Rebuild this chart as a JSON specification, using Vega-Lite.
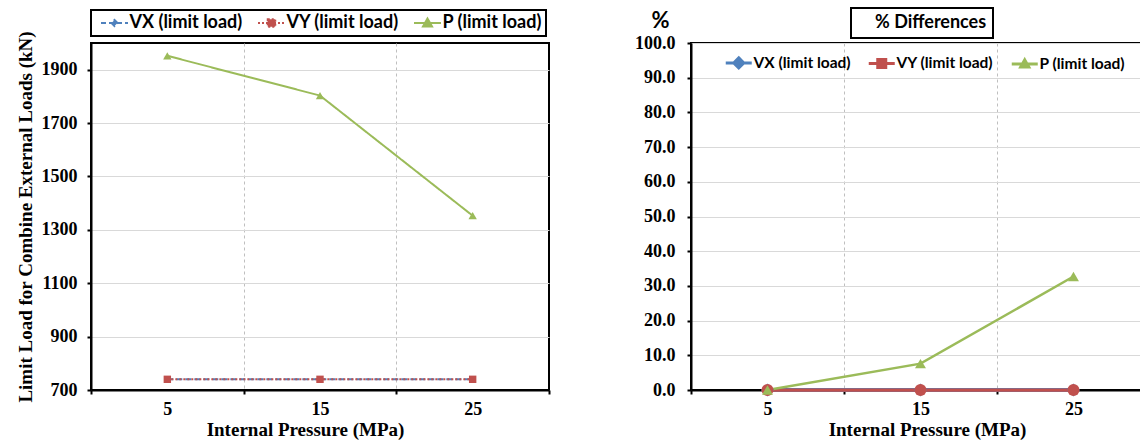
{
  "$schema": "https://vega.github.io/schema/vega-lite/v6.json",
  "background": "white",
  "padding": {"left": 15, "top": 6, "right": 0, "bottom": 0},
  "data": {"values": [
    {"p": 5, "series": "VX (limit load)", "load": 740, "diff": 0},
    {"p": 15, "series": "VX (limit load)", "load": 740, "diff": 0},
    {"p": 25, "series": "VX (limit load)", "load": 740, "diff": 0},
    {"p": 5, "series": "VY (limit load)", "load": 740, "diff": 0},
    {"p": 15, "series": "VY (limit load)", "load": 740, "diff": 0},
    {"p": 25, "series": "VY (limit load)", "load": 740, "diff": 0},
    {"p": 5, "series": "P (limit load)", "load": 1952, "diff": 0},
    {"p": 15, "series": "P (limit load)", "load": 1803, "diff": 7.6},
    {"p": 25, "series": "P (limit load)", "load": 1353, "diff": 32.7}
  ]},
  "config": {
    "view": {"stroke": "black", "strokeWidth": 2},
    "legend": {"strokeWidth": 2},
    "axis": {
      "domainColor": "black", "domainWidth": 2,
      "tickColor": "black", "tickWidth": 2, "tickSize": 4, "labelOverlap": false,
      "labelFont": "Liberation Serif", "labelFontWeight": "bold", "labelFontSize": 18, "labelColor": "black",
      "titleFont": "Liberation Serif", "titleFontWeight": "bold", "titleFontSize": 19, "titleColor": "black"
    }
  },
  "spacing": 82,
  "resolve": {"scale": {"color": "independent", "fill": "independent", "stroke": "independent", "shape": "independent", "size": "independent", "strokeDash": "independent", "strokeWidth": "independent", "opacity": "independent"},
              "legend": {"color": "independent", "fill": "independent", "stroke": "independent", "shape": "independent", "strokeDash": "independent", "opacity": "independent"}},
  "hconcat": [
    {
      "width": 458,
      "height": 347,
      "view": {"stroke": "black", "strokeWidth": 2},
      "encoding": {
        "x": {"field": "p", "type": "quantitative",
          "scale": {"domain": [0, 30], "nice": false, "zero": false},
          "axis": {"values": [0, 5, 10, 15, 20, 25, 30], "title": "Internal Pressure (MPa)",
            "labelExpr": "datum.value % 10 === 5 ? datum.label : ''",
            "tickOpacity": {"condition": {"test": "datum.value % 10 === 0", "value": 1}, "value": 0},
            "gridOpacity": {"condition": {"test": "datum.value % 10 === 0 && datum.value > 0 && datum.value < 30", "value": 1}, "value": 0},
            "gridDash": [3, 3], "gridColor": "#bfbfbf", "labelPadding": 6, "titlePadding": 2,
            "titleX": 214, "titleAlign": "center", "titleAnchor": null}},
        "y": {"field": "load", "type": "quantitative",
          "scale": {"domain": [700, 2000], "nice": false, "zero": false},
          "axis": {"values": [700, 900, 1100, 1300, 1500, 1700, 1900], "format": "d",
            "title": "Limit Load for Combine External Loads (kN)",
            "gridColor": "#d9d9d9", "labelPadding": 10, "titlePadding": 6}}
      },
      "resolve": {"scale": {"shape": "independent", "strokeDash": "independent", "fill": "independent", "stroke": "independent"}},
      "layer": [
        {"mark": {"type": "line", "strokeWidth": 2},
         "encoding": {
           "color": {"field": "series", "type": "nominal",
             "scale": {"domain": ["VX (limit load)", "VY (limit load)", "P (limit load)"], "range": ["#4F81BD", "#C0504D", "#9BBB59"]}, "legend": null},
           "strokeDash": {"field": "series", "type": "nominal",
             "scale": {"domain": ["VX (limit load)", "VY (limit load)", "P (limit load)"], "range": [[6, 3], [2, 2], [1, 0]]}, "legend": null}}},
        {"mark": {"type": "point", "filled": true, "opacity": 1},
         "encoding": {
           "color": {"field": "series", "type": "nominal", "legend": null},
           "shape": {"field": "series", "type": "nominal",
             "scale": {"domain": ["VX (limit load)", "VY (limit load)", "P (limit load)"], "range": ["diamond", "square", "triangle-up"]}, "legend": null},
           "size": {"field": "series", "type": "nominal",
             "scale": {"domain": ["VX (limit load)", "VY (limit load)", "P (limit load)"], "range": [40, 70, 80]}, "legend": null}}},
        {"mark": {"type": "point", "filled": true, "opacity": 0},
         "encoding": {
           "fill": {"field": "series", "type": "nominal",
             "scale": {"domain": ["VX (limit load)", "VY (limit load)", "P (limit load)"], "range": ["#4F81BD", "#C0504D", "#9BBB59"]},
             "legend": {"title": null, "orient": "top", "direction": "horizontal", "offset": 7, "strokeColor": "black", "padding": 4,
               "labelFont": "Lato", "labelFontWeight": "bold", "labelFontSize": 18, "labelColor": "black",
               "symbolSize": 100, "symbolStrokeWidth": 2, "symbolOffset": 10.5, "labelOffset": 6, "columnPadding": 9,
               "symbolOpacity": 1, "symbolFillColor": "black", "symbolStrokeColor": "black"}},
           "stroke": {"field": "series", "type": "nominal",
             "scale": {"domain": ["VX (limit load)", "VY (limit load)", "P (limit load)"], "range": ["#4F81BD", "#C0504D", "#9BBB59"]},
             "legend": {"title": null, "orient": "top", "direction": "horizontal", "offset": 7, "strokeColor": "black", "padding": 4,
               "labelFont": "Lato", "labelFontWeight": "bold", "labelFontSize": 18, "labelColor": "black",
               "symbolSize": 100, "symbolStrokeWidth": 2, "symbolOffset": 10.5, "labelOffset": 6, "columnPadding": 9,
               "symbolOpacity": 1, "symbolFillColor": "black", "symbolStrokeColor": "black"}},
           "shape": {"field": "series", "type": "nominal",
             "scale": {"domain": ["VX (limit load)", "VY (limit load)", "P (limit load)"],
               "range": ["M-2.7,0H2.7M0,-0.6L0.6,0L0,0.6L-0.6,0Z", "M-2.7,0H2.7M-0.75,-0.75H0.75V0.75H-0.75Z", "M-2.7,0H2.7M0,-0.9L0.9,0.7L-0.9,0.7Z"]},
             "legend": {"title": null, "orient": "top", "direction": "horizontal", "offset": 7, "strokeColor": "black", "padding": 4,
               "labelFont": "Lato", "labelFontWeight": "bold", "labelFontSize": 18, "labelColor": "black",
               "symbolSize": 100, "symbolStrokeWidth": 2, "symbolOffset": 10.5, "labelOffset": 6, "columnPadding": 9,
               "symbolOpacity": 1, "symbolFillColor": "black", "symbolStrokeColor": "black"}},
           "strokeDash": {"field": "series", "type": "nominal",
             "scale": {"domain": ["VX (limit load)", "VY (limit load)", "P (limit load)"], "range": [[5, 3], [2, 2], [1, 0]]},
             "legend": {"title": null, "orient": "top", "direction": "horizontal", "offset": 7, "strokeColor": "black", "padding": 4,
               "labelFont": "Lato", "labelFontWeight": "bold", "labelFontSize": 18, "labelColor": "black",
               "symbolSize": 100, "symbolStrokeWidth": 2, "symbolOffset": 10.5, "labelOffset": 6, "columnPadding": 9,
               "symbolOpacity": 1, "symbolFillColor": "black", "symbolStrokeColor": "black"}}}}
      ]
    },
    {
      "width": 451,
      "height": 347,
      "view": {"stroke": "black", "strokeWidth": 2},
      "encoding": {
        "x": {"field": "p", "type": "quantitative",
          "scale": {"domain": [0, 29.48], "nice": false, "zero": false},
          "axis": {"values": [0, 5, 10, 15, 20, 25], "title": "Internal Pressure (MPa)",
            "labelExpr": "datum.value % 10 === 5 ? datum.label : ''",
            "tickOpacity": {"condition": {"test": "datum.value % 10 === 0", "value": 1}, "value": 0},
            "gridOpacity": {"condition": {"test": "datum.value % 10 === 0 && datum.value > 0", "value": 1}, "value": 0},
            "gridDash": [3, 3], "gridColor": "#bfbfbf", "labelPadding": 6, "titlePadding": 2,
            "titleX": 236, "titleAlign": "center", "titleAnchor": null}},
        "y": {"field": "diff", "type": "quantitative",
          "scale": {"domain": [0, 100], "nice": false},
          "axis": {"values": [0, 10, 20, 30, 40, 50, 60, 70, 80, 90, 100], "format": ".1f",
            "title": "%", "titleAngle": 0, "titleX": -31, "titleY": -23, "titleAlign": "center", "titleBaseline": "middle",
            "titleFont": "Lato", "titleFontSize": 22,
            "gridColor": "#d9d9d9", "labelPadding": 12}}
      },
      "resolve": {"scale": {"shape": "independent", "fill": "independent", "stroke": "independent"}},
      "layer": [
        {"mark": {"type": "line"},
         "encoding": {
           "color": {"field": "series", "type": "nominal",
             "scale": {"domain": ["VX (limit load)", "VY (limit load)", "P (limit load)"], "range": ["#4F81BD", "#C0504D", "#9BBB59"]}, "legend": null},
           "strokeWidth": {"field": "series", "type": "nominal",
             "scale": {"domain": ["VX (limit load)", "VY (limit load)", "P (limit load)"], "range": [4, 2.5, 2.5]}, "legend": null}}},
        {"mark": {"type": "point", "filled": true, "opacity": 1},
         "encoding": {
           "color": {"field": "series", "type": "nominal", "legend": null},
           "shape": {"field": "series", "type": "nominal",
             "scale": {"domain": ["VX (limit load)", "VY (limit load)", "P (limit load)"], "range": ["diamond", "circle", "triangle-up"]}, "legend": null},
           "size": {"field": "series", "type": "nominal",
             "scale": {"domain": ["VX (limit load)", "VY (limit load)", "P (limit load)"], "range": [170, 120, 70]}, "legend": null}}},
        {"mark": {"type": "point", "filled": true, "opacity": 0},
         "encoding": {
           "fill": {"field": "series", "type": "nominal",
             "scale": {"domain": ["VX (limit load)", "VY (limit load)", "P (limit load)"], "range": ["#4F81BD", "#C0504D", "#9BBB59"]},
             "legend": {"title": null, "orient": "none", "direction": "horizontal", "legendX": 32, "legendY": 12, "padding": 0,
               "labelFont": "Lato", "labelFontWeight": "bold", "labelFontSize": 15.5, "labelColor": "black",
               "symbolSize": 100, "symbolStrokeWidth": 3, "symbolOffset": 8, "labelOffset": 7, "columnPadding": 11,
               "symbolOpacity": 1, "symbolFillColor": "black", "symbolStrokeColor": "black"}},
           "stroke": {"field": "series", "type": "nominal",
             "scale": {"domain": ["VX (limit load)", "VY (limit load)", "P (limit load)"], "range": ["#4F81BD", "#C0504D", "#9BBB59"]},
             "legend": {"title": null, "orient": "none", "direction": "horizontal", "legendX": 32, "legendY": 12, "padding": 0,
               "labelFont": "Lato", "labelFontWeight": "bold", "labelFontSize": 15.5, "labelColor": "black",
               "symbolSize": 100, "symbolStrokeWidth": 3, "symbolOffset": 8, "labelOffset": 7, "columnPadding": 11,
               "symbolOpacity": 1, "symbolFillColor": "black", "symbolStrokeColor": "black"}},
           "shape": {"field": "series", "type": "nominal",
             "scale": {"domain": ["VX (limit load)", "VY (limit load)", "P (limit load)"],
               "range": ["M-2.6,0H2.6M0,-1L1,0L0,1L-1,0Z", "M-2.6,0H2.6M-0.8,-0.8H0.8V0.8H-0.8Z", "M-2.6,0H2.6M0,-0.8L0.8,0.6L-0.8,0.6Z"]},
             "legend": {"title": null, "orient": "none", "direction": "horizontal", "legendX": 32, "legendY": 12, "padding": 0,
               "labelFont": "Lato", "labelFontWeight": "bold", "labelFontSize": 15.5, "labelColor": "black",
               "symbolSize": 100, "symbolStrokeWidth": 3, "symbolOffset": 8, "labelOffset": 7, "columnPadding": 11,
               "symbolOpacity": 1, "symbolFillColor": "black", "symbolStrokeColor": "black"}}}},
        {"data": {"values": [{"t": "% Differences"}]},
         "mark": {"type": "point", "size": 0, "opacity": 0},
         "encoding": {
           "x": {"value": 0}, "y": {"value": 0},
           "opacity": {"field": "t", "type": "nominal", "scale": {"range": [0]},
             "legend": {"title": null, "orient": "none", "legendX": 160, "legendY": -35,
               "strokeColor": "black", "padding": 6,
               "symbolSize": 0, "symbolOpacity": 0, "symbolOffset": 0, "labelOffset": 0,
               "labelFont": "Lato", "labelFontWeight": "bold", "labelFontSize": 18, "labelColor": "black"}}}}
      ]
    }
  ]
}
